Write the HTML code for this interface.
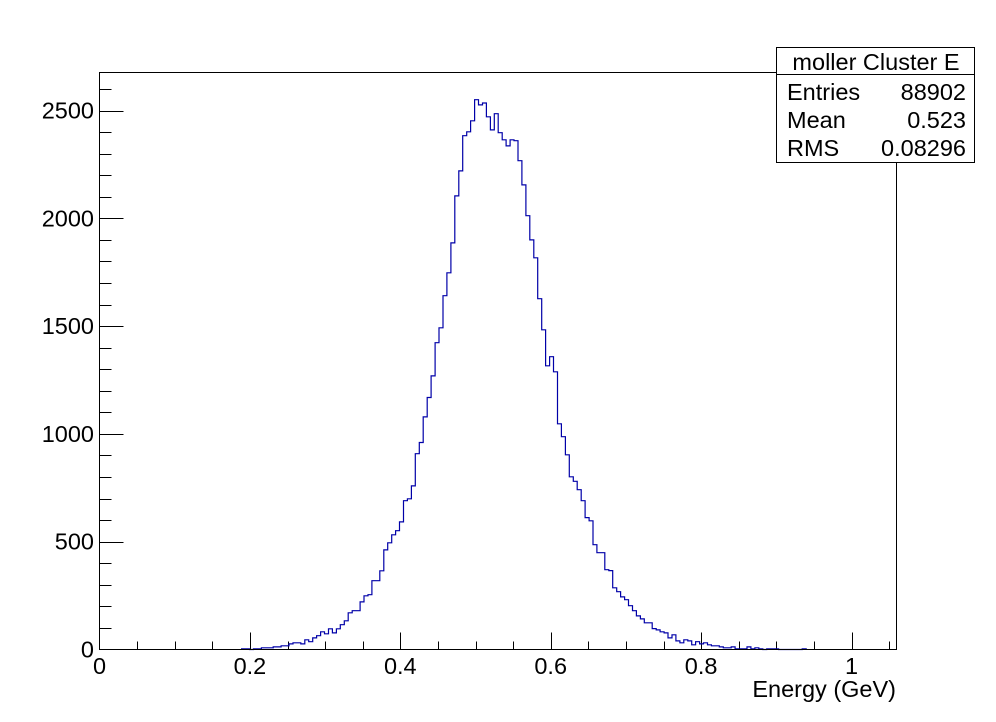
<!DOCTYPE html>
<html><head><meta charset="utf-8"><style>
html,body{margin:0;padding:0;background:#fff;}
svg{display:block;font-family:"Liberation Sans",sans-serif;}
</style></head><body>
<svg id="chart" width="996" height="722" viewBox="0 0 996 722">
<rect x="0" y="0" width="996" height="722" fill="#fff"/>
<g id="ticks"></g>
<path id="hist" fill="none" stroke="#0000a8" stroke-width="1.2"/>
<rect x="99.5" y="72.5" width="797" height="577" fill="none" stroke="#000" stroke-width="1"/>
<text x="896" y="697" font-size="23.5" text-anchor="end">Energy (GeV)</text>
<g>
<rect x="776.5" y="47.5" width="198" height="115" fill="#fff" stroke="#000"/>
<line x1="776" y1="74.5" x2="975" y2="74.5" stroke="#000"/>
<text x="876" y="70" font-size="23.5" text-anchor="middle">moller Cluster E</text>
<text x="787" y="100" font-size="23.5">Entries</text>
<text x="966" y="100" font-size="23.5" text-anchor="end">88902</text>
<text x="787" y="128" font-size="23.5">Mean</text>
<text x="966" y="128" font-size="23.5" text-anchor="end">0.523</text>
<text x="787" y="156" font-size="23.5">RMS</text>
<text x="966" y="156" font-size="23.5" text-anchor="end">0.08296</text>
</g>
</svg>
<script>
const binWidth = 0.00525;
const firstBin = 36;
const counts = [3,3,0,3,3,8,8,8,12,12,17,17,26,31,31,26,45,36,54,64,82,73,96,77,96,115,133,170,180,180,221,249,254,319,319,365,462,495,532,551,592,690,699,759,908,960,1079,1169,1269,1423,1492,1641,1747,1886,2104,2220,2383,2401,2452,2550,2526,2535,2471,2410,2485,2397,2364,2336,2364,2360,2267,2155,2012,1900,1817,1627,1483,1316,1358,1288,1047,987,903,801,780,741,690,612,597,486,449,449,370,366,286,268,244,231,203,180,156,142,124,124,97,91,82,77,54,68,40,31,45,40,22,36,26,31,22,17,17,12,8,8,12,3,3,3,12,3,8,3,0,3,3,3,0,0,0,0,0,0,3];
const xTickValues = [0,0.2,0.4,0.6,0.8,1];
const xTickLabels = ["0","0.2","0.4","0.6","0.8","1"];
const yTickValues = [0,500,1000,1500,2000,2500];
const yTickLabels = ["0","500","1000","1500","2000","2500"];

const X0 = 99.5, PXU = 752, Y0 = 649.5, PYC = 0.2156;
function sx(v){return X0 + v*PXU;}
function sy(v){return Y0 - v*PYC;}
const NS='http://www.w3.org/2000/svg';

let d = '';
counts.forEach((c,i)=>{
  const x1 = sx((firstBin+i)*binWidth), x2 = sx((firstBin+i+1)*binWidth);
  const y = sy(c);
  d += (i===0 ? 'M'+x1.toFixed(1)+','+Y0 : '') + ' L'+x1.toFixed(1)+','+y.toFixed(1)+' L'+x2.toFixed(1)+','+y.toFixed(1);
});
d += ' L'+sx((firstBin+counts.length)*binWidth).toFixed(1)+','+Y0;
document.getElementById('hist').setAttribute('d', d);

const g = document.getElementById('ticks');
function line(x1,y1,x2,y2,name){
  const l=document.createElementNS(NS,'line');
  l.setAttribute('x1',x1);l.setAttribute('y1',y1);l.setAttribute('x2',x2);l.setAttribute('y2',y2);
  l.setAttribute('stroke','#000');
  
  
  g.appendChild(l);
}
function text(x,y,s,anchor,name){
  const t=document.createElementNS(NS,'text');
  t.setAttribute('x',x);t.setAttribute('y',y);t.setAttribute('font-size','23.5');t.setAttribute('text-anchor',anchor);
  t.textContent=s;
  
  
  g.appendChild(t);
}
for(let k=1;k<=21;k++){
  const v=k*0.05; const x=Math.round(sx(v))+0.5;
  const major = (k%4===0);
  line(x,Y0,x,Y0-(major?17:8),'x-tick');
}
xTickValues.forEach((v,i)=>text(sx(v),674,xTickLabels[i],'middle','x-tick-label'));
for(let k=1;k<=26;k++){
  const y=Math.round(sy(k*100))+0.5;
  const major=(k%5===0);
  line(X0,y,X0+(major?24:12),y,'y-tick');
}
yTickValues.forEach((v,i)=>text(94,sy(v)+8,yTickLabels[i],'end','y-tick-label'));
</script>
</body></html>
